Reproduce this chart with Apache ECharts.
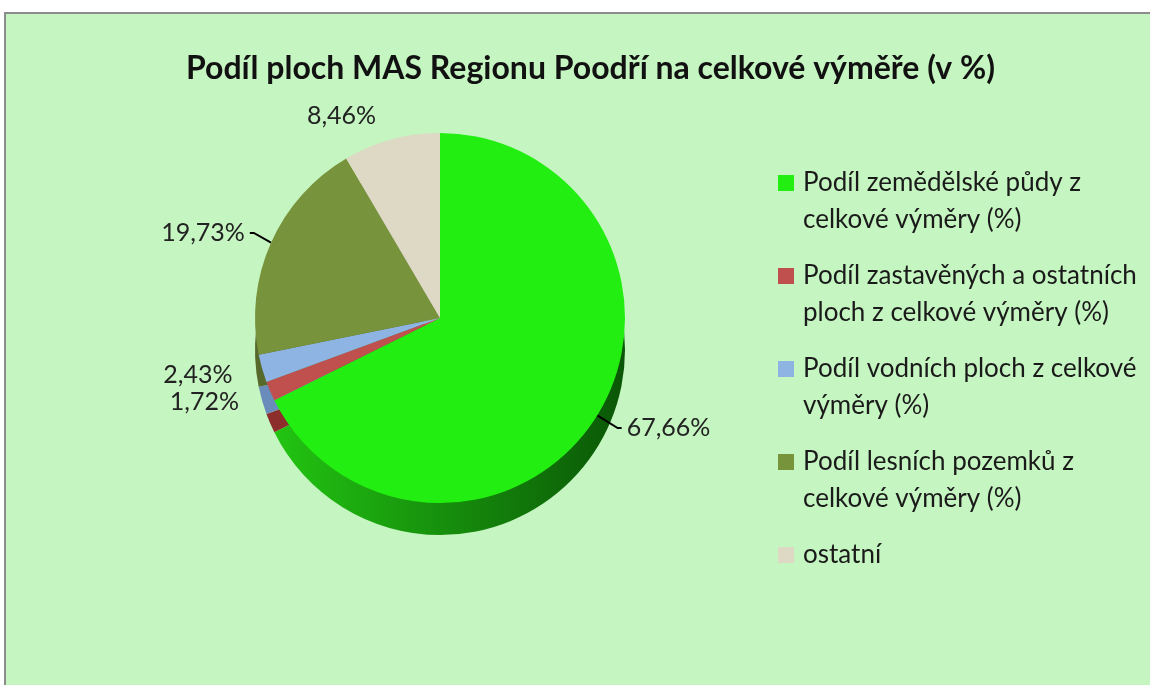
<!DOCTYPE html>
<html>
<head>
<meta charset="utf-8">
<script src="https://cdn.jsdelivr.net/npm/echarts@6/dist/echarts.min.js"></script>
<style>
  html, body { margin: 0; padding: 0; background: #ffffff; overflow: hidden; width: 1150px; height: 685px; }
  #frame { position: absolute; left: 4px; top: 12px; width: 1300px; height: 800px;
           background: #c5f5c0; border-top: 2px solid #8c8c8c; border-left: 2px solid #8c8c8c; }
  #chart { position: absolute; left: 0; top: 0; width: 1150px; height: 685px; }
</style>
</head>
<body>
<div id="frame"></div>
<div id="chart"></div>
<script>
const titleText = 'Podíl ploch MAS Regionu Poodří na celkové výměře (v %)';
const categories = [
  'Podíl zemědělské půdy z celkové výměry (%)',
  'Podíl zastavěných a ostatních ploch z celkové výměry (%)',
  'Podíl vodních ploch z celkové výměry (%)',
  'Podíl lesních pozemků z celkové výměry (%)',
  'ostatní'
];
const legendLines = [
  ['Podíl zemědělské půdy z', 'celkové výměry (%)'],
  ['Podíl zastavěných a ostatních', 'ploch z celkové výměry (%)'],
  ['Podíl vodních ploch z celkové', 'výměry (%)'],
  ['Podíl lesních pozemků z', 'celkové výměry (%)'],
  ['ostatní']
];
const values = [67.66, 1.72, 2.43, 19.73, 8.46];
const showLeader = [true, false, false, true, false];

const topColors = ['#22ee11', '#c0504d', '#8eb4e3', '#77933c', '#ddd9c4'];
const sideColors = [
  new echarts.graphic.LinearGradient(0, 0, 1, 0, [{offset: 0, color: '#22c412'}, {offset: 1, color: '#0a5606'}]),
  '#8c2f2c', '#6a8cba', '#56692b', '#aaa692'
];

const FONT = 'Lato, "Noto Sans", "DejaVu Sans", sans-serif';
const fmt = v => v.toFixed(2).replace('.', ',') + '%';

const rich = { t: { fontFamily: FONT, fontSize: 26, lineHeight: 37, color: '#1a1a1a', padding: [0, 0, 0, 9] },
               sp: { width: 16, height: 16 } };
topColors.forEach((c, i) => { rich['i' + i] = { width: 16, height: 16, backgroundColor: c }; });

const chart = echarts.init(document.getElementById('chart'));
chart.setOption({
  backgroundColor: 'transparent',
  animation: false,
  title: {
    text: titleText, left: 181, top: 48,
    textStyle: { fontFamily: FONT, fontSize: 32, fontWeight: 'bold', color: '#111' }
  },
  legend: {
    orient: 'vertical', left: 768, top: 165, itemGap: 30,
    itemWidth: 0, itemHeight: 0, selectedMode: false,
    data: categories,
    formatter: name => {
      const i = categories.indexOf(name);
      const lines = legendLines[i];
      let s = '{i' + i + '|}{t|' + lines[0] + '}';
      for (let k = 1; k < lines.length; k++) s += '\n{sp|}{t|' + lines[k] + '}';
      return s;
    },
    textStyle: { rich: rich }
  },
  series: [
    {
      type: 'pie', name: 'side', silent: true, z: 1,
      center: [440, 350], radius: 185, startAngle: 90, clockwise: true,
      label: { show: false }, labelLine: { show: false },
      data: values.map((v, i) => ({ value: v, name: categories[i] + ' ', itemStyle: { color: sideColors[i] } }))
    },
    {
      type: 'pie', name: 'top', z: 2,
      center: [440, 318], radius: 185, startAngle: 90, clockwise: true,
      label: {
        show: true, position: 'outside', formatter: p => fmt(p.value),
        fontFamily: FONT, fontSize: 25, color: '#222'
      },
      labelLine: { length: 24, length2: 4, lineStyle: { color: '#000', width: 2 } },
      data: values.map((v, i) => ({
        value: v, name: categories[i],
        itemStyle: { color: topColors[i] },
        labelLine: { show: showLeader[i] }
      }))
    }
  ]
});
</script>
</body>
</html>
